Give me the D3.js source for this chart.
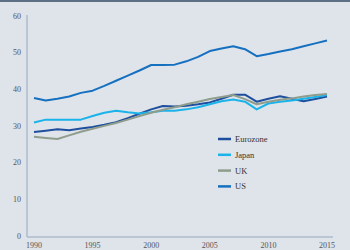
<!DOCTYPE html>
<html>
<head>
<meta charset="utf-8">
<script src="https://cdn.jsdelivr.net/npm/d3@7"></script>
<style>
  body { margin: 0; background: #dfe3ea; }
  svg { display: block; }
</style>
</head>
<body>
<svg width="350" height="250"></svg>
<script>
const years = d3.range(1990, 2016);
const seriesNames = ["Eurozone", "Japan", "UK", "US"];
const eurozone = [28.2, 28.6, 29.0, 28.7, 29.2, 29.6, 30.2, 30.9, 32.0, 33.2, 34.4, 35.3, 35.2, 35.4, 35.8, 36.3, 37.3, 38.4, 38.4, 36.5, 37.3, 38.0, 37.3, 36.6, 37.2, 37.9];
const japan = [30.8, 31.6, 31.6, 31.6, 31.6, 32.6, 33.5, 34.0, 33.6, 33.3, 33.6, 34.0, 34.0, 34.4, 35.0, 35.8, 36.6, 37.1, 36.5, 34.4, 36.0, 36.5, 36.8, 37.3, 37.8, 38.3];
const uk = [26.9, 26.6, 26.3, 27.3, 28.3, 29.1, 29.9, 30.7, 31.6, 32.6, 33.5, 34.3, 35.0, 35.8, 36.5, 37.2, 37.8, 38.3, 37.2, 35.8, 36.5, 37.0, 37.4, 37.9, 38.3, 38.6];
const us = [37.5, 36.8, 37.3, 37.9, 38.9, 39.5, 40.8, 42.2, 43.6, 45.0, 46.5, 46.5, 46.6, 47.5, 48.7, 50.3, 51.0, 51.6, 50.8, 48.9, 49.5, 50.2, 50.8, 51.6, 52.4, 53.2];
const xTicks = [1990, 1995, 2000, 2005, 2010, 2015];
const yTicks = [0, 10, 20, 30, 40, 50, 60];

const allSeries = [eurozone, japan, uk, us];
const colors = ["#1e4f9e", "#1ab3ea", "#8f9d8c", "#1670c0"];

const svg = d3.select("svg");

// top border
svg.append("rect")
  .attr("x", 0).attr("y", 0)
  .attr("width", 350).attr("height", 2)
  .attr("fill", "#5d6f85");

const x = d3.scaleLinear().domain([1990, 2015]).range([34, 327]);
const y = d3.scaleLinear().domain([0, 60]).range([235.5, 15.5]);

//axis lines
svg.append("line")
  .attr("x1", 27).attr("x2", 27)
  .attr("y1", 15).attr("y2", 237)
  .attr("stroke", "#aebbcb").attr("stroke-width", 1.5);
svg.append("line")
  .attr("x1", 27).attr("x2", 333)
  .attr("y1", 237).attr("y2", 237)
  .attr("stroke", "#aebbcb").attr("stroke-width", 1.5);

//tick labels
svg.selectAll(".ylab")
  .data(yTicks)
  .enter()
  .append("text")
  .attr("class", "ylab")
  .attr("x", 21)
  .attr("y", d => y(d) + 3)
  .attr("text-anchor", "end")
  .attr("font-family", "Liberation Serif")
  .attr("font-size", "8px")
  .attr("fill", "#555")
  .text(d => d);

svg.selectAll(".xlab")
  .data(xTicks)
  .enter()
  .append("text")
  .attr("class", "xlab")
  .attr("x", d => x(d))
  .attr("y", 247.5)
  .attr("text-anchor", "middle")
  .attr("font-family", "Liberation Serif")
  .attr("font-size", "8px")
  .attr("fill", "#555")
  .text(d => d);

// lines
const line = d3.line()
  .x((d, i) => x(years[i]))
  .y(d => y(d));

allSeries.forEach((s, i) => {
  svg.append("path")
    .datum(s)
    .attr("d", line)
    .attr("fill", "none")
    .attr("stroke", colors[i])
    .attr("stroke-width", 2)
    .attr("stroke-linejoin", "round");
});

//legend
seriesNames.forEach((name, i) => {
  const ly = 139 + i * 15.8;
  svg.append("line")
    .attr("x1", 218).attr("x2", 231)
    .attr("y1", ly).attr("y2", ly)
    .attr("stroke", colors[i])
    .attr("stroke-width", 2.5);
  svg.append("text")
    .attr("x", 235)
    .attr("y", ly + 3)
    .attr("font-family", "Liberation Serif")
    .attr("font-size", "8.5px")
    .attr("fill", "#333")
    .text(name);
});
</script>
</body>
</html>
